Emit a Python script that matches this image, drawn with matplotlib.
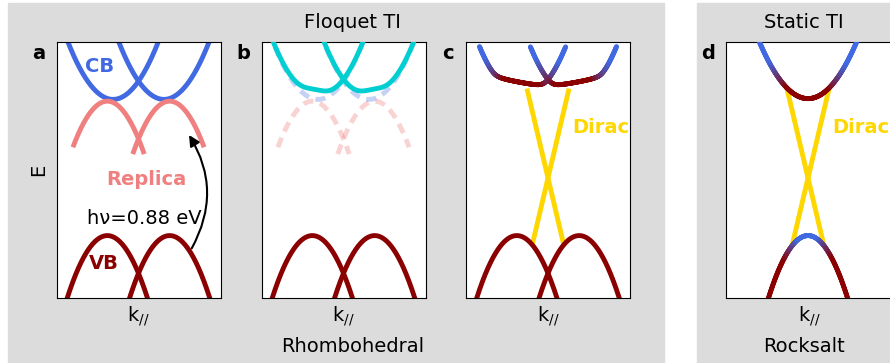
import numpy as np
import matplotlib
matplotlib.use('Agg')
import matplotlib.pyplot as plt
import matplotlib.colors as mcolors
from matplotlib.collections import LineCollection
from matplotlib.patches import Rectangle

# band model parameters (plot units: k in [-1, 1], E in [0, 1])
cb_centers = [-0.31, 0.31]
cb_bottom = 0.777
cb_curv = 0.74
vb_centers = [-0.38, 0.38]
vb_top = 0.245
vb_curv = 1.02
photon = 0.525                 # hν = 0.88 eV
replica_span = [-0.42, 0.45]   # k range of the replica, relative to its valley
gap_b = 0.042                  # Floquet coupling, panel b
level_c = [0.82, 0.06]         # inverted level in c: offset and slope in |k|
gap_c = 0.015
cband_emax_c = 0.985
mix_c = [0.22, 0.45]           # |k - k_valley| where the band turns from VB to CB character
dirac_point = 0.47
dirac_slope = 1.36
dirac_k = [-0.19, 0.25]
rs_cb_bottom = 0.78
rs_cb_curv = 0.63
rs_vb_top = 0.245
rs_vb_curv = 1.05
rs_mix_upper = [0.25, 0.47]
rs_mix_lower = [0.12, 0.3]

LW = 3.5
BLUE = 'royalblue'
RED = 'darkred'
PINK = 'lightcoral'
CYAN = 'darkturquoise'
GOLD = 'gold'

k = np.linspace(-1.3, 1.3, 600)


def cb(kk, kc):
    return cb_bottom + cb_curv * (kk - kc) ** 2


def vb(kk, kc):
    return vb_top - vb_curv * (kk - kc) ** 2


def ramp(x, lo, hi):
    return np.clip((x - lo) / (hi - lo), 0, 1)


def upper_branch(e1, e2, gap):
    return 0.5 * (e1 + e2) + np.sqrt((0.5 * (e1 - e2)) ** 2 + gap ** 2)


def blend(w):
    b = np.array(mcolors.to_rgb(BLUE))
    r = np.array(mcolors.to_rgb(RED))
    return r * (1 - w) + b * w


def gradient_line(ax, x, y, w, z=3):
    pts = np.column_stack([x, y]).reshape(-1, 1, 2)
    segs = np.concatenate([pts[:-1], pts[1:]], axis=1)
    wm = 0.5 * (w[:-1] + w[1:])
    lc = LineCollection(segs, colors=[blend(t) for t in wm], linewidths=LW,
                        capstyle='round', zorder=z)
    ax.add_collection(lc)


def draw_vb(ax):
    for kc in vb_centers:
        ax.plot(k, vb(k, kc), color=RED, lw=LW, solid_capstyle='butt')


def draw_replica(ax, **kw):
    for kc in vb_centers:
        kr = np.linspace(kc + replica_span[0], kc + replica_span[1], 200)
        if kc > 0:
            kr = np.linspace(kc - replica_span[1], kc - replica_span[0], 200)
        ax.plot(kr, vb(kr, kc) + photon, solid_capstyle='butt', **kw)


def draw_dirac(ax):
    kd = np.array(dirac_k)
    ax.plot(kd, dirac_point + dirac_slope * kd, color=GOLD, lw=LW, zorder=1)
    ax.plot(-kd, dirac_point + dirac_slope * kd, color=GOLD, lw=LW, zorder=1)


def setup(ax, letter):
    ax.set_xlim(-1, 1)
    ax.set_ylim(0, 1)
    ax.set_xticks([])
    ax.set_yticks([])
    ax.set_xlabel('k$_{//}$', fontsize=14, labelpad=4)
    ax.text(-0.11, 0.955, letter, transform=ax.transAxes, fontsize=14,
            fontweight='bold', ha='center', va='center')


fig = plt.figure(figsize=(8.9, 3.63), dpi=100)
fig.patches.append(Rectangle((8 / 890, 0), 656 / 890, 1 - 2.7 / 363,
                             transform=fig.transFigure, color='gainsboro', zorder=-1))
fig.patches.append(Rectangle((697 / 890, 0), 1, 1 - 2.7 / 363,
                             transform=fig.transFigure, color='gainsboro', zorder=-1))

bottom, height, width = 64.7 / 363, 256 / 363, 164 / 890
ax_a = fig.add_axes([56.5 / 890, bottom, width, height])
ax_b = fig.add_axes([261.5 / 890, bottom, width, height])
ax_c = fig.add_axes([466 / 890, bottom, width, height])
ax_d = fig.add_axes([726 / 890, bottom, 167.3 / 890, height])
for ax, letter in zip([ax_a, ax_b, ax_c, ax_d], 'abcd'):
    setup(ax, letter)
ax_d.set_xlim(-1, 1.04)

# a: bare bands and the photon-dressed replica
for kc in cb_centers:
    ax_a.plot(k, cb(k, kc), color=BLUE, lw=LW)
draw_replica(ax_a, color=PINK, lw=LW)
draw_vb(ax_a)
ax_a.set_ylabel('E', fontsize=14, labelpad=6)
ax_a.text(0.262, 0.907, 'CB', transform=ax_a.transAxes, color=BLUE,
          fontsize=14, fontweight='bold', ha='center', va='center')
ax_a.text(0.29, 0.137, 'VB', transform=ax_a.transAxes, color=RED,
          fontsize=14, fontweight='bold', ha='center', va='center')
ax_a.text(0.549, 0.465, 'Replica', transform=ax_a.transAxes, color=PINK,
          fontsize=14, fontweight='bold', ha='center', va='center')
ax_a.text(0.535, 0.31, 'hν=0.88 eV', transform=ax_a.transAxes,
          fontsize=14, ha='center', va='center')
ax_a.annotate('', xy=(0.616, 0.638), xytext=(0.649, 0.195),
              arrowprops=dict(arrowstyle='-|>', color='k', lw=1.5,
                              mutation_scale=16, shrinkA=0, shrinkB=0,
                              connectionstyle='arc3,rad=0.29'))

# b: weak Floquet hybridisation of CB and replica
for kc in cb_centers:
    ax_b.plot(k, cb(k, kc), color=BLUE, lw=LW, alpha=0.3, dashes=(2.1, 1.4))
draw_replica(ax_b, color=PINK, lw=LW, alpha=0.35, dashes=(2.1, 1.4))
for kc_c, kc_v in zip(cb_centers, vb_centers):
    eplus = upper_branch(cb(k, kc_c), vb(k, kc_v) + photon, gap_b)
    ax_b.plot(k, eplus, color=CYAN, lw=LW, zorder=3)
draw_vb(ax_b)

# c: Floquet topological phase with Dirac surface state
draw_dirac(ax_c)
draw_vb(ax_c)
for kc in cb_centers:
    level = level_c[0] + level_c[1] * np.abs(k)
    eplus = upper_branch(cb(k, kc), level, gap_c)
    w = ramp(np.abs(k - kc), *mix_c)
    keep = eplus <= cband_emax_c
    gradient_line(ax_c, k[keep], eplus[keep], w[keep])
ax_c.text(0.645, 0.669, 'Dirac', transform=ax_c.transAxes, color=GOLD,
          fontsize=14, fontweight='bold', ha='left', va='center')

# d: static topological insulator, inverted bands
draw_dirac(ax_d)
e_up = rs_cb_bottom + rs_cb_curv * k ** 2
gradient_line(ax_d, k, e_up, ramp(np.abs(k), *rs_mix_upper))
e_lo = rs_vb_top - rs_vb_curv * k ** 2
gradient_line(ax_d, k, e_lo, 1 - ramp(np.abs(k), *rs_mix_lower))
ax_d.text(106 / 167.3, 0.669, 'Dirac', transform=ax_d.transAxes, color=GOLD,
          fontsize=14, fontweight='bold', ha='left', va='center')

fig.text(352.5 / 890, 1 - 22 / 363, 'Floquet TI', fontsize=14, ha='center', va='center')
fig.text(352.5 / 890, 1 - 347 / 363, 'Rhombohedral', fontsize=14, ha='center', va='center')
fig.text(804 / 890, 1 - 22 / 363, 'Static TI', fontsize=14, ha='center', va='center')
fig.text(804 / 890, 1 - 347 / 363, 'Rocksalt', fontsize=14, ha='center', va='center')

fig.savefig('out.png', dpi=100, facecolor='white')
